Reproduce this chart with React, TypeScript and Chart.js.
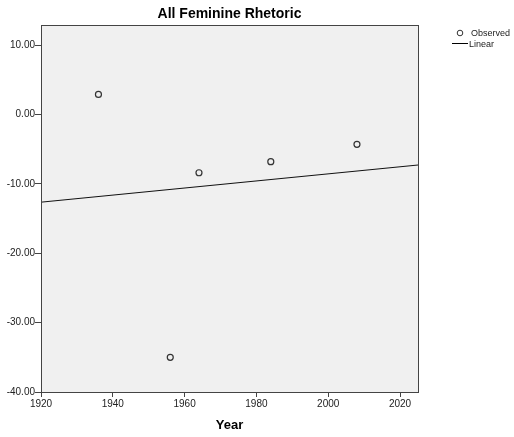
import React, { useEffect, useRef } from "react";
import { Chart, registerables } from "chart.js";

Chart.register(...registerables);

const observedYears = [1936, 1956, 1964, 1984, 2008];
const observedValues = [2.9, -35.0, -8.4, -6.8, -4.3];
const linearYears = [1920, 2025];
const linearValues = [-12.64, -7.28];
const xTicks = [1920, 1940, 1960, 1980, 2000, 2020];
const yTicks = [-40, -30, -20, -10, 0, 10];
const chartTitle = "All Feminine Rhetoric";
const xTitle = "Year";
const legendLabels = ["Observed", "Linear"];

const FONT = "'Liberation Sans', Arial, sans-serif";

const framePlugin = {
  id: "frame",
  beforeDraw(chart: any) {
    const { ctx, chartArea: a } = chart;
    ctx.save();
    ctx.fillStyle = "#f0f0f0";
    ctx.fillRect(a.left, a.top, a.right - a.left, a.bottom - a.top);
    ctx.restore();
  },
  afterDraw(chart: any) {
    const { ctx, chartArea: a } = chart;
    ctx.save();
    ctx.strokeStyle = "#444";
    ctx.lineWidth = 1;
    ctx.strokeRect(a.left + 0.5, a.top + 0.5, a.right - a.left, a.bottom - a.top);
    // title
    ctx.fillStyle = "#000";
    ctx.font = `bold 14px ${FONT}`;
    ctx.textAlign = "center";
    ctx.textBaseline = "middle";
    ctx.fillText(chartTitle, (a.left + a.right) / 2, 14);
    // legend
    ctx.font = `9px ${FONT}`;
    ctx.textAlign = "left";
    ctx.fillStyle = "#222";
    ctx.strokeStyle = "#333";
    ctx.beginPath();
    ctx.arc(460, 33, 2.8, 0, Math.PI * 2);
    ctx.stroke();
    ctx.fillText(legendLabels[0], 471, 34);
    ctx.strokeStyle = "#000";
    ctx.beginPath();
    ctx.moveTo(452, 43.5);
    ctx.lineTo(468, 43.5);
    ctx.stroke();
    ctx.fillText(legendLabels[1], 469, 44.5);
    ctx.restore();
  },
};

export default function App() {
  const ref = useRef<HTMLCanvasElement>(null);
  useEffect(() => {
    const chart = new Chart(ref.current!, {
      type: "scatter",
      data: {
        datasets: [
          {
            label: legendLabels[0],
            data: observedYears.map((x, i) => ({ x, y: observedValues[i] })),
            pointRadius: 3,
            pointBorderWidth: 1.2,
            pointBorderColor: "#333",
            pointBackgroundColor: "rgba(0,0,0,0)",
            showLine: false,
          },
          {
            label: legendLabels[1],
            type: "line",
            data: linearYears.map((x, i) => ({ x, y: linearValues[i] })),
            borderColor: "#111",
            borderWidth: 1,
            pointRadius: 0,
            fill: false,
          } as any,
        ],
      },
      options: {
        responsive: false,
        animation: false,
        layout: { padding: { top: 25, right: 96, left: 0, bottom: 0 } },
        plugins: { legend: { display: false }, tooltip: { enabled: false }, title: { display: false } },
        scales: {
          x: {
            type: "linear",
            min: 1920,
            max: 2025,
            afterBuildTicks: (s: any) => {
              s.ticks = xTicks.map((v) => ({ value: v }));
            },
            afterFit: (s: any) => {
              s.height = 45;
            },
            ticks: {
              color: "#222",
              font: { family: FONT, size: 10 },
              padding: 1,
              maxRotation: 0,
              callback: (v: any) => String(v),
            },
            grid: { drawOnChartArea: false, drawTicks: true, tickLength: 5, color: "#444" },
            border: { display: true, color: "#444" },
            title: {
              display: true,
              text: xTitle,
              color: "#000",
              font: { family: FONT, size: 13, weight: "bold" },
              padding: { top: 4, bottom: 4 },
            },
          },
          y: {
            type: "linear",
            min: -40,
            max: 12.9,
            afterBuildTicks: (s: any) => {
              s.ticks = yTicks.map((v) => ({ value: v }));
            },
            afterFit: (s: any) => {
              s.width = 41;
            },
            ticks: {
              color: "#222",
              font: { family: FONT, size: 10 },
              padding: 0,
              callback: (v: any) => Number(v).toFixed(2),
            },
            grid: { drawOnChartArea: false, drawTicks: true, tickLength: 6, color: "#444" },
            border: { display: true, color: "#444" },
          },
        },
      },
      plugins: [framePlugin],
    });
    return () => chart.destroy();
  }, []);
  return (
    <div style={{ position: "absolute", left: 0, top: 0, width: 514, height: 437, background: "#fff" }}>
      <canvas ref={ref} width={514} height={437} style={{ display: "block" }} />
    </div>
  );
}
